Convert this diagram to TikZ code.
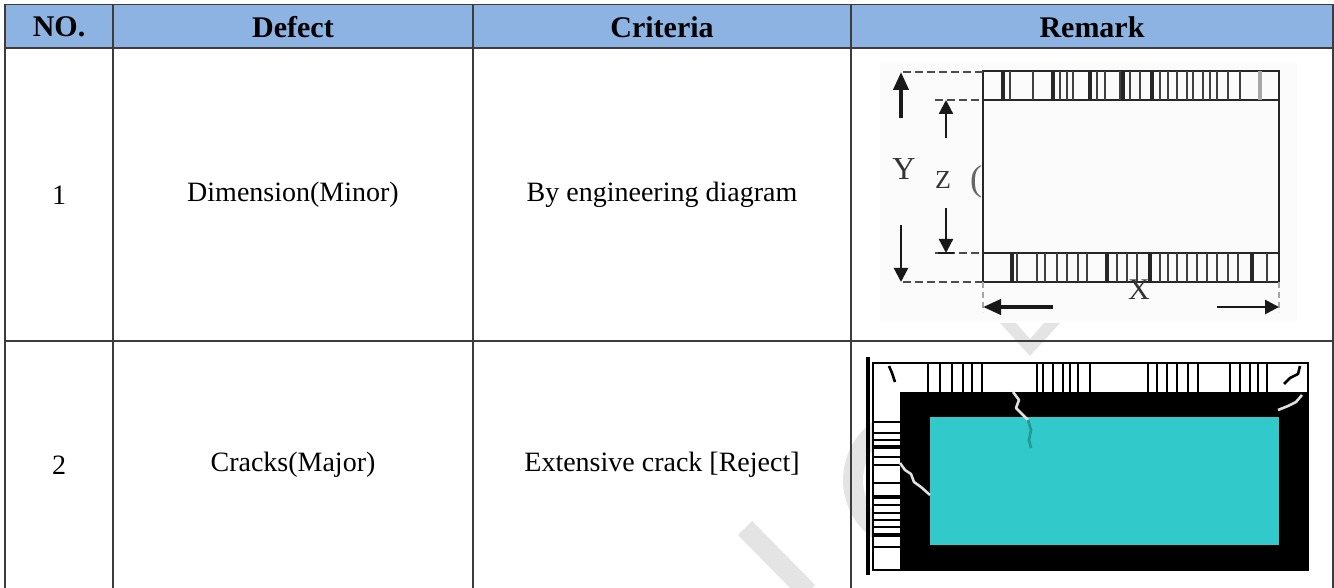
\documentclass[tikz,border=0pt]{standalone}
\usepackage{fontspec}
\setmainfont{Liberation Serif}
\usetikzlibrary{arrows.meta}
\definecolor{hdr}{HTML}{8DB3E2}
\definecolor{gridc}{HTML}{3C3C3C}
\definecolor{pool}{HTML}{31C9C9}
\definecolor{wm}{HTML}{E4E4E4}
\begin{document}
\begin{tikzpicture}[x=0.5pt,y=-0.5pt,
  tablerule/.style={draw=gridc, line width=0.8pt},
  hd/.style={font=\fontsize{15}{17}\selectfont\bfseries, anchor=center, inner sep=0pt},
  cell/.style={font=\fontsize{14}{16}\selectfont, anchor=center, inner sep=0pt},
  ink/.style={draw=black!85, line width=0.8pt},
  bar/.style={draw=black!75, line width=0.8pt},
  tbar/.style={draw=black!85, line width=1.8pt},
  dimarrow/.style={draw=black!90, line width=1.1pt, -{Triangle[length=7pt,width=7pt]}},
  bigarrow/.style={draw=black!90, line width=2pt, -{Triangle[length=9pt,width=7.5pt]}},
  dashrule/.style={draw=black!70, line width=0.8pt, dash pattern=on 4pt off 2pt},
  crackw/.style={draw=white!88!black, line width=1.3pt, line join=round},
  crackb/.style={draw=black, line width=1.3pt, line join=round},
  wmark/.style={draw=wm, line width=10pt}]
\useasboundingbox (0,0) rectangle (1334,588);
% header band
\fill[hdr] (5,4.5) rectangle (1333,48);
% watermark
\fill[wm] (1000,323) -- (1016,323) -- (1030,339) -- (1044,323) -- (1060,323) -- (1030,356) -- cycle;
\draw[wmark] (745,528) -- (808,592);
\draw[wmark] (915,480) ++(125:62) arc[start angle=125, end angle=235, radius=62];
% ---------- remark drawing 1 ----------
\fill[black!1.5] (880,63) rectangle (1297,321);
\draw[ink, line width=1.1pt] (983,71) rectangle (1279,282);
\draw[ink] (983,100) -- (1279,100);
\draw[ink] (983,253) -- (1279,253);
\foreach \x in {1010,1033,1060,1067,1073,1097,1105,1120,1130,1140,1160,1168,1177,1187,1193,1203,1210,1217,1228,1240}
  \draw[bar] (\x,71) -- (\x,100);
\foreach \x in {1003,1053,1090,1123,1152}
  \draw[tbar] (\x,71) -- (\x,100);
\draw[draw=black!35, line width=1.8pt] (1260,71) -- (1260,100);
\foreach \x in {1017,1037,1045,1057,1067,1078,1087,1117,1127,1137,1160,1168,1177,1187,1197,1207,1217,1228,1238,1267}
  \draw[bar] (\x,253) -- (\x,282);
\foreach \x in {1012,1107,1150,1252}
  \draw[tbar] (\x,253) -- (\x,282);
\draw[dashrule] (903,72) -- (983,72);
\draw[dashrule] (935,100) -- (983,100);
\draw[dashrule] (935,253) -- (983,253);
\draw[dashrule] (903,282) -- (983,282);
\draw[draw=black!35, line width=0.7pt, dash pattern=on 3pt off 2pt] (983,282) -- (983,312);
\draw[draw=black!35, line width=0.7pt, dash pattern=on 3pt off 2pt] (1279,282) -- (1279,312);
\draw[bigarrow] (901,118) -- (901,72);
\draw[dimarrow] (901,225) -- (901,282);
\draw[dimarrow] (946,138) -- (946,100);
\draw[dimarrow] (946,208) -- (946,253);
\draw[draw=black!90, line width=0.9pt] (938,253) -- (954,253);
\draw[bigarrow] (1053,307) -- (983,307);
\draw[dimarrow, line width=1.4pt] (1217,307) -- (1279,307);
\node[font=\fontsize{16}{16}\selectfont, text=black!80, inner sep=0pt] (ly) at (904,169) {Y};
\node[font=\fontsize{13}{13}\selectfont, text=black!80, inner sep=0pt] (lz) at (943,180) {Z};
\node[font=\fontsize{18}{18}\selectfont, text=black!60, inner sep=0pt] (lp) at (976,182) {(};
\node[font=\fontsize{15}{15}\selectfont, text=black!80, inner sep=0pt] (lx) at (1139,290) {X};
% ---------- remark drawing 2 ----------
\draw[black, line width=1.6pt] (868,357) -- (868,575);
\draw[black, line width=1pt, fill=white] (873,363) rectangle (1308,570);
\fill[black] (900,392) rectangle (1308,570);
\fill[pool] (930,417) rectangle (1279,545);
\foreach \x in {928,940,952,963,972,982,1037,1043,1053,1063,1070,1078,1090,1148,1157,1167,1177,1188,1198,1230,1240,1250,1258,1267}
  \draw[black, line width=1pt] (\x,363) -- (\x,392);
\foreach \y in {422,433,440,457,465,483,505,513,520,527,547}
  \draw[black, line width=0.9pt] (873,\y) -- (900,\y);
\foreach \y in {447,497,535}
  \draw[black, line width=1.8pt] (873,\y) -- (900,\y);
\draw[crackb] (889,366) -- (892,373) -- (895,382);
\draw[crackb] (1300,366) -- (1298,374) -- (1290,378) -- (1284,384);
\draw[crackw] (1302,395) -- (1296,402) -- (1288,406) -- (1278,410);
\draw[crackw] (1013,392) -- (1019,400) -- (1016,408) -- (1024,416) -- (1028,420);
\draw[draw=black!25!pool, line width=1.3pt, line join=round] (1028,420) -- (1031,430) -- (1029,440) -- (1031,448);
\draw[crackw] (900,463) -- (905,470) -- (911,474) -- (914,482) -- (921,487) -- (930,495);
% ---------- table rules ----------
\draw[tablerule] (5,4.5) -- (1333,4.5);
\draw[tablerule] (5,48) -- (1333,48);
\draw[tablerule] (5,341) -- (1333,341);
\foreach \x in {5,113,473,851,1333}
  \draw[tablerule] (\x,4.5) -- (\x,588);
% ---------- texts ----------
\node[hd] (hno) at (59,27) {NO.};
\node[hd] (hdef) at (293,27) {Defect};
\node[hd] (hcri) at (662,27) {Criteria};
\node[hd] (hrem) at (1092,27) {Remark};
\node[cell] (n1) at (59,195) {1};
\node[cell] (d1) at (293,195) {Dimension(Minor)};
\node[cell] (c1) at (662,195) {By engineering diagram};
\node[cell] (n2) at (59,465) {2};
\node[cell] (d2) at (293,465) {Cracks(Major)};
\node[cell] (c2) at (662,465) {Extensive crack [Reject]};
\end{tikzpicture}
\end{document}
